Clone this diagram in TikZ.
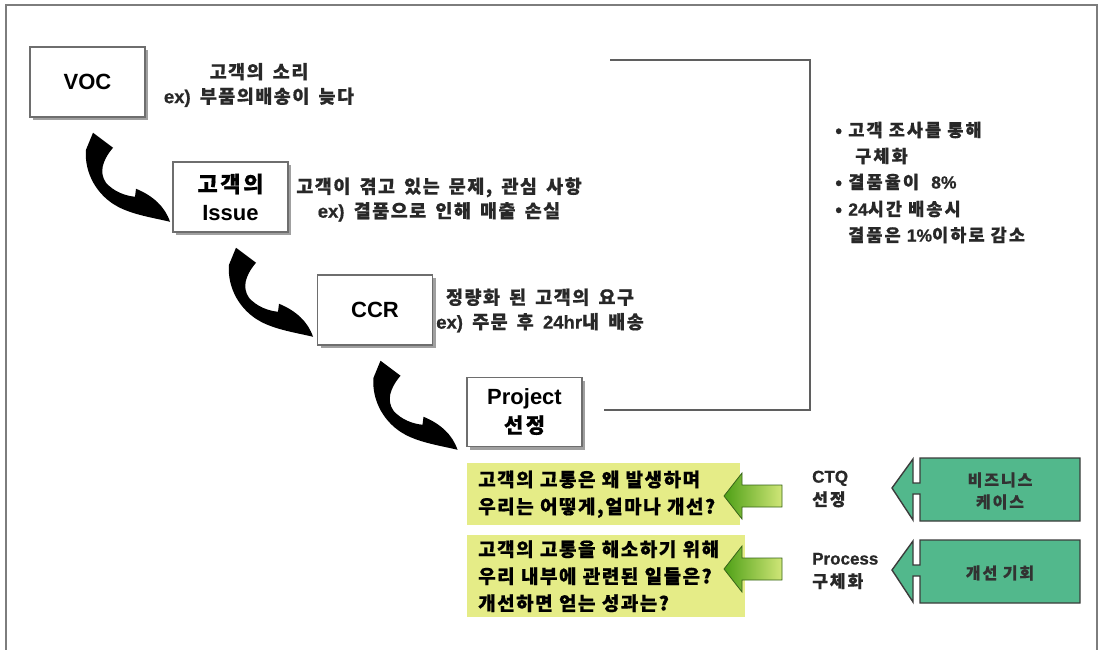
\documentclass[tikz,border=0pt]{standalone}
\usepackage{fontspec}
\setmainfont{Liberation Sans}
\newfontfamily\kr{Noto Sans CJK KR}[LetterSpace=12, BoldFeatures={FakeBold=0.6}]
\newfontfamily\krw{Noto Sans CJK KR}[LetterSpace=8, WordSpace=1.6, BoldFeatures={FakeBold=0.6}]
\newfontface\latb{Liberation Sans Bold}
\newfontface\latbb{Liberation Sans Bold}[FakeBold=0.8]
\newcommand\latn[1]{{\latbb #1}}
\usetikzlibrary{shadows,calc}
\definecolor{framegray}{RGB}{125,125,125}
\definecolor{boxgray}{RGB}{110,110,110}
\definecolor{shadowgray}{RGB}{160,160,160}
\definecolor{linegray}{RGB}{95,95,95}
\definecolor{descgray}{RGB}{40,40,40}
\definecolor{yel}{RGB}{229,236,135}
\definecolor{gdark}{RGB}{78,160,22}
\definecolor{glight}{RGB}{208,230,120}
\definecolor{gline}{RGB}{55,100,25}
\definecolor{teal}{RGB}{82,184,140}
\definecolor{tealline}{RGB}{60,60,60}
\definecolor{tealtext}{RGB}{50,50,50}
\begin{document}
\begin{tikzpicture}[x=1pt,y=-1pt,
  box/.style={draw=boxgray, line width=1.5pt, fill=white, minimum width=115pt,
    minimum height=70pt, align=center, inner sep=0pt,
    general shadow={fill=shadowgray, shadow xshift=3pt, shadow yshift=-3pt}},
  boxfont/.style={font=\latb\fontsize{22}{28}\selectfont},
  desc/.style={font=\krw\bfseries\fontsize{18.5}{24.5}\selectfont, text=descgray, inner sep=0pt},
  yelbox/.style={fill=yel, anchor=north west, inner xsep=11pt, inner ysep=0pt, align=left,
    font=\krw\bfseries\fontsize{19}{27}\selectfont, text=black},
  lbl/.style={anchor=west, align=left, inner sep=0pt, text=descgray,
    font=\kr\bfseries\fontsize{17}{23}\selectfont},
  tealshape/.style={fill=teal, draw=tealline, line width=1.4pt, line join=miter},
  tealtxt/.style={font=\kr\bfseries\fontsize{16}{22}\selectfont, text=tealtext, align=center, inner sep=0pt},
  garrow/.style={draw=gline, line width=0.8pt, left color=gdark, right color=glight},
  curv/.style={fill=black},
  bracket/.style={draw=linegray, line width=1.6pt},
  bul/.style={anchor=west, inner sep=0pt, text=descgray, font=\kr\bfseries\fontsize{17.5}{22}\selectfont}
]
\useasboundingbox (0,0) rectangle (1105,650);
% outer frame
\draw[framegray, line width=1.4pt] (6,650) -- (6,5) -- (1097,5) -- (1097,650);

% process boxes
\node[box, boxfont] (voc) at (87.5,82) {VOC};
\node[box, boxfont] (iss) at (230.5,197) {{\kr\bfseries 고객의}\\Issue};
\node[box, boxfont] (ccr) at (375,310) {CCR};
\node[box, boxfont, minimum height=69pt] (proj) at (524.5,412) {Project\\{\kr\bfseries\fontsize{21}{26}\selectfont 선정}};

% descriptions
\node[desc, align=center] (vocd) at (259,85) {고객의 소리\\\latn{ex)} 부품의배송이 늦다};
\node[desc, align=center] (issd) at (439,199.5) {고객이 겪고 있는 문제, 관심 사항\\\latn{ex)} 결품으로 인해 매출 손실};
\node[desc, align=center] (ccrd) at (540,310.5) {정량화 된 고객의 요구\\\latn{ex)} 주문 후 \latn{24hr}내 배송};

% curved black arrows
\foreach \src in {voc,iss,ccr}{
  \fill[curv, shift={($(\src.south)+(5.5,15)$)}]
    (0,0) -- (20,15) .. controls (9,28) and (6,40) .. (13,50)
    .. controls (21,59) and (32,63) .. (42,64) -- (43,56)
    .. controls (60,63) and (72,74) .. (77,89)
    .. controls (60,85) and (40,82) .. (25,74)
    .. controls (4,63) and (-9,40) .. (-7,17) -- cycle;
}

% bracket
\coordinate (bt) at (610,60);
\coordinate (bb) at ($(proj.east)+(21,-2)$);
\draw[bracket] (bt) -- (810,60) -- (810,410) -- (bb |- 0,410);

% bullet texts
\node[bul] (b1) at (835,130) {• 고객 조사를 통해};
\node[bul] (b2) at (855,156) {구체화};
\node[bul] (b3) at (835,182) {• 결품율이 \ \latn{8\%}};
\node[bul] (b4) at (835,209) {• \latn{24}시간 배송시};
\node[bul] (b5) at (848,235) {결품은 \latn{1\%}이하로 감소};

% yellow boxes
\node[yelbox, text width=251pt, minimum height=62pt] (y1) at (467,463)
  {고객의 고통은 왜 발생하며\\우리는 어떻게,얼마나 개선?};
\node[yelbox, text width=256pt, minimum height=82pt] (y2) at (467,535)
  {고객의 고통을 해소하기 위해\\우리 내부에 관련된 일들은?\\개선하면 얻는 성과는?};

% green arrows
\foreach \yy in {496,569}{
  \path[garrow, shift={(724,\yy)}]
    (0,0) -- (18,-23) -- (18,-11) -- (58,-11) -- (58,11) -- (18,11) -- (18,23) -- cycle;
}

% labels
\node[lbl] (ctq) at (812,489) {\latn{CTQ}\\선정};
\node[lbl] (proc) at (812,571) {\latn{Process}\\구체화};

% teal arrows
\foreach \yy in {488,570}{
  \path[tealshape, shift={(892,\yy)}]
    (0,0) -- (21,-29) -- (21,-5) -- (28,-5) -- (28,-30) -- (188,-30) -- (188,33)
    -- (28,33) -- (28,6) -- (21,6) -- (21,32) -- cycle;
}
\node[tealtxt] (t1) at (1000,491) {비즈니스\\케이스};
\node[tealtxt] (t2) at (1000,573) {개선 기회};
\end{tikzpicture}
\end{document}
